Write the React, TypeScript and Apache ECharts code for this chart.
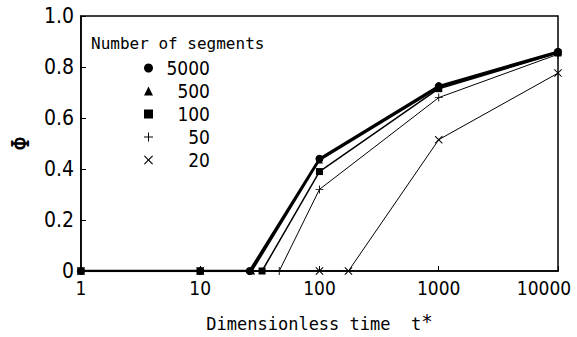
import React, { useEffect, useRef } from "react";
import * as echarts from "echarts";

const seriesNames = ["5000", "500", "100", "50", "20"];
const t5000 = [1, 10, 26, 100, 1000, 10000];
const phi5000 = [0, 0, 0, 0.44, 0.725, 0.86];
const t500 = [1, 10, 27, 100, 1000, 10000];
const phi500 = [0, 0, 0, 0.435, 0.72, 0.857];
const t100 = [1, 10, 33, 100, 1000, 10000];
const phi100 = [0, 0, 0, 0.39, 0.715, 0.855];
const t50 = [1, 10, 46, 100, 1000, 10000];
const phi50 = [0, 0, 0, 0.32, 0.68, 0.85];
const t20 = [1, 10, 100, 175, 1000, 10000];
const phi20 = [0, 0, 0, 0, 0.515, 0.776];
const yTicks = [0, 0.2, 0.4, 0.6, 0.8, 1.0];

const PLUS = "path://M4,0H5V4H9V5H5V9H4V5H0V4H4Z";
const CROSS =
  "path://M0,0.8L0.8,0L4.5,3.7L8.2,0L9,0.8L5.3,4.5L9,8.2L8.2,9L4.5,5.3L0.8,9L0,8.2L3.7,4.5Z";

const MONO = "'DejaVu Sans Mono', 'Liberation Mono', monospace";
const COND = "'DejaVu Sans Condensed', 'DejaVu Sans', sans-serif";

export default function App() {
  const ref = useRef<HTMLDivElement>(null);
  useEffect(() => {
    if (!ref.current) return;
    const chart = echarts.init(ref.current, null, { renderer: "svg" });
    const zip = (t: number[], p: number[]) => t.map((v, i) => [v, p[i]]);
    const specs = [
      { name: seriesNames[0], data: zip(t5000, phi5000), symbol: "circle", size: 8, w: 2.5 },
      { name: seriesNames[1], data: zip(t500, phi500), symbol: "triangle", size: 7, w: 2 },
      { name: seriesNames[2], data: zip(t100, phi100), symbol: "rect", size: 7, w: 1.5 },
      { name: seriesNames[3], data: zip(t50, phi50), symbol: PLUS, size: 8, w: 1 },
      { name: seriesNames[4], data: zip(t20, phi20), symbol: CROSS, size: 8, w: 1 },
    ];
    chart.setOption({
      animation: false,
      backgroundColor: "#fff",
      grid: {
        left: 80,
        right: 19,
        top: 16,
        bottom: 62,
        show: true,
        borderColor: "#000",
        borderWidth: 1.5,
        backgroundColor: "transparent",
      },
      title: {
        text: "Number of segments",
        left: 86,
        top: 30,
        textStyle: { fontFamily: MONO, fontSize: 16, fontWeight: 500, color: "#000" },
      },
      legend: {
        orient: "vertical",
        left: 139,
        top: 53,
        itemWidth: 9,
        itemHeight: 9,
        itemGap: 3,
        data: [
          { name: "5000", icon: "circle" },
          { name: "500", icon: "triangle" },
          { name: "100", icon: "rect" },
          { name: "50", icon: PLUS },
          { name: "20", icon: CROSS },
        ],
        formatter: (n: string) => `{v|${n}}`,
        textStyle: {
          color: "#000",
          fontFamily: COND,
          fontSize: 19,
          lineHeight: 20,
          rich: { v: { width: 52, align: "right", fontFamily: COND, fontSize: 19, color: "#000", lineHeight: 20 } },
        },
      },
      xAxis: {
        type: "log",
        logBase: 10,
        min: 1,
        max: 10000,
        name: "Dimensionless time  t{s|*}",
        nameLocation: "middle",
        nameGap: 40,
        nameTextStyle: {
          fontFamily: MONO,
          fontSize: 17,
          color: "#000",
          rich: { s: { fontFamily: MONO, fontSize: 19, color: "#000", verticalAlign: "top", padding: [0, 0, 6, 0] } },
        },
        axisLine: { lineStyle: { color: "#000", width: 1.5 } },
        axisTick: { inside: true, length: 5, lineStyle: { color: "#000" } },
        minorTick: { show: false },
        splitLine: { show: false },
        axisLabel: {
          color: "#000",
          fontFamily: COND,
          fontSize: 19,
          margin: 7,
          formatter: (v: number) => (v >= 10000 ? `{e|${Math.round(v)}}` : String(Math.round(v))),
          rich: { e: { fontFamily: COND, fontSize: 19, color: "#000", padding: [0, 28, 0, 0] } },
        },
      },
      yAxis: {
        type: "value",
        min: yTicks[0],
        max: yTicks[yTicks.length - 1],
        interval: 0.2,
        name: "Φ",
        nameLocation: "middle",
        nameRotate: 90,
        nameGap: 40,
        nameTextStyle: { fontFamily: MONO, fontSize: 25, color: "#000" },
        axisLine: { show: true, lineStyle: { color: "#000", width: 1.5 } },
        axisTick: { show: true, inside: true, length: 5, lineStyle: { color: "#000" } },
        splitLine: { show: false },
        axisLabel: {
          color: "#000",
          fontFamily: COND,
          fontSize: 21,
          margin: 7,
          formatter: (v: number) => (v === 0 ? "0" : v.toFixed(1)),
        },
      },
      series: specs.map((s) => ({
        name: s.name,
        type: "line",
        data: s.data,
        symbol: s.symbol,
        symbolSize: s.size,
        showSymbol: true,
        lineStyle: { color: "#000", width: s.w },
        itemStyle: { color: "#000" },
      })),
    });
    return () => chart.dispose();
  }, []);
  return <div ref={ref} style={{ width: 577, height: 337, position: "absolute", left: 0, top: 0 }} />;
}
